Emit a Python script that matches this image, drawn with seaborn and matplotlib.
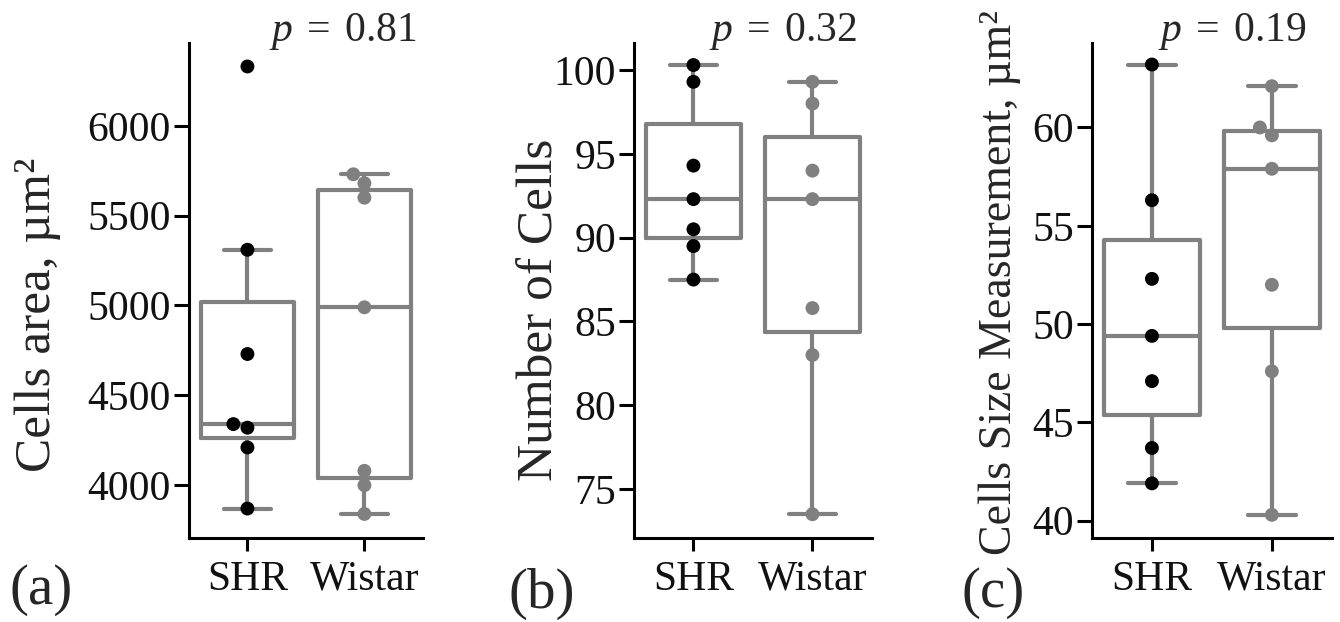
import pandas as pd
import numpy as np
import matplotlib
matplotlib.use('Agg')
import matplotlib.pyplot as plt
import seaborn as sns

# data
groups = ['SHR', 'Wistar']
shr_area = [6330, 5310, 4730, 4340, 4320, 4210, 3870]
wistar_area = [5730, 5680, 5600, 4990, 4080, 4000, 3840]
shr_count = [100.3, 99.3, 94.3, 92.3, 90.5, 89.5, 87.5]
wistar_count = [99.3, 98.0, 94.0, 92.3, 85.8, 83.0, 73.5]
shr_size = [63.2, 56.3, 52.3, 49.4, 47.1, 43.7, 41.9]
wistar_size = [62.1, 60.0, 59.6, 57.9, 52.0, 47.6, 40.3]
p_values = ['0.81', '0.32', '0.19']
ylabels = ['Cells area, µm²', 'Number of Cells', 'Cells Size Measurement, µm²']
panel_tags = ['(a)', '(b)', '(c)']
yticks = [np.arange(4000, 6001, 500), np.arange(75, 101, 5), np.arange(40, 61, 5)]

sns.set_style('ticks')
plt.rcParams['font.family'] = ['Liberation Serif', 'DejaVu Serif']
plt.rcParams['mathtext.fontset'] = 'custom'
plt.rcParams['mathtext.it'] = 'Liberation Serif:italic'
plt.rcParams['mathtext.rm'] = 'Liberation Serif'

GRAY = '#808080'


def make_df(shr, wistar):
    return pd.DataFrame({'group': ['SHR'] * len(shr) + ['Wistar'] * len(wistar),
                         'value': shr + wistar})


datasets = [make_df(shr_area, wistar_area),
            make_df(shr_count, wistar_count),
            make_df(shr_size, wistar_size)]

fig = plt.figure(figsize=(13.4, 6.22), dpi=100)
boxes = [[0.141, 0.135, 0.1746, 0.796],
         [0.4731, 0.135, 0.1776, 0.796],
         [0.8149, 0.135, 0.179, 0.796]]
ylims = [(3706, 6461), (72.08, 101.62), (39.12, 64.3)]
label_xy = [(-0.645, 0.45), (-0.395, 0.46), (-0.383, 0.515)]
label_sizes = [37, 37, 33]
p_x = [0.3112, 0.6396, 0.9754]
tag_xy = [(0.0306, 0.051), (0.4045, 0.045), (0.741, 0.047)]

for i, df in enumerate(datasets):
    ax = fig.add_axes(boxes[i])
    sns.boxplot(data=df, x='group', y='value', order=groups, fill=False,
                color=GRAY, linewidth=3, width=0.8, showfliers=False, ax=ax)
    sns.swarmplot(data=df, x='group', y='value', order=groups, hue='group',
                  palette={'SHR': 'black', 'Wistar': GRAY}, size=10,
                  legend=False, ax=ax)
    ax.set_ylim(*ylims[i])
    ax.set_xlim(-0.5, 1.5)
    ax.set_yticks(yticks[i])
    ax.set_xlabel('')
    ax.set_ylabel(ylabels[i], fontsize=label_sizes[i], va='center')
    ax.yaxis.set_label_coords(*label_xy[i])
    ax.tick_params(axis='both', labelsize=30, width=2.2, color='black',
                   labelcolor='#111111')
    ax.tick_params(axis='y', length=11, pad=2)
    ax.tick_params(axis='x', length=9, pad=7)
    for s in ['left', 'bottom']:
        ax.spines[s].set_linewidth(2.2)
        ax.spines[s].set_color('black')
    sns.despine(ax=ax)
    fig.text(p_x[i], 0.934, r'$p\;=\;\mathrm{' + p_values[i] + '}$', fontsize=30,
             ha='right', va='baseline')
    fig.text(tag_xy[i][0], tag_xy[i][1], panel_tags[i], fontsize=41,
             ha='center', va='center')

plt.savefig('out.png', dpi=100, facecolor='white')
